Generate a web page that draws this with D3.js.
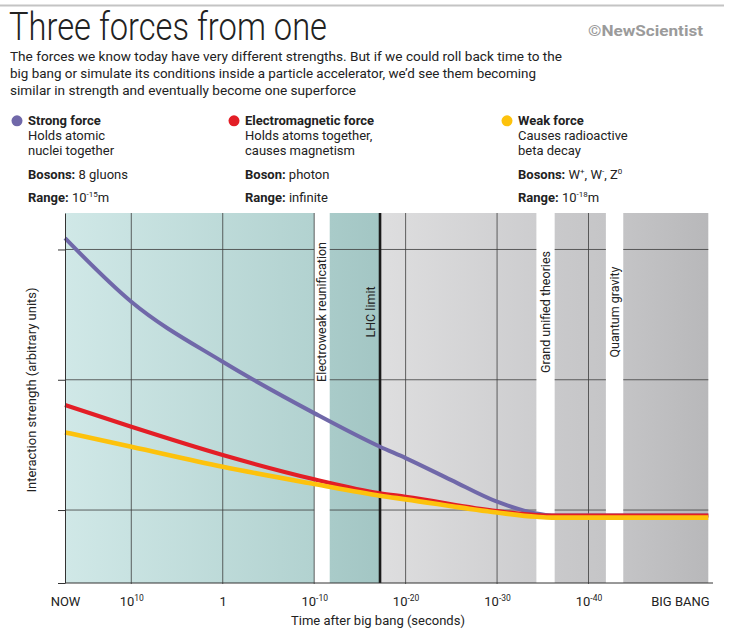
<!DOCTYPE html>
<html>
<head>
<meta charset="utf-8">
<script src="https://cdn.jsdelivr.net/npm/d3@7"></script>
<style>
  body { margin: 0; background: #fff; }
  svg text { font-family: Roboto, "Noto Sans", sans-serif; fill: #222; }
</style>
</head>
<body>
<div id="chart"></div>
<script>
// time axis: log10 of seconds after the big bang
const tickExps = [17.25, 10, 0, -10, -20, -30, -40, -50];
const tickLabels = ["NOW", "10^{10}", "1", "10^{-10}", "10^{-20}", "10^{-30}", "10^{-40}", "BIG BANG"];
const gridExps = [10, 0, -10, -20, -30, -40];
const gridValues = [1, 2, 3];

// strength curves (arbitrary units)
const strongExps = [17.25, 10, 0, -10, -17.2, -20, -25, -30, -32.5, -34.3, -36, -53.1];
const strongVals = [3.087, 2.599, 2.138, 1.744, 1.486, 1.399, 1.230, 1.064, 1.005, 0.973, 0.958, 0.958];
const emExps = [17.25, 10, 0, -10, -17.2, -20, -30, -34.3, -36, -53.1];
const emVals = [1.806, 1.639, 1.422, 1.236, 1.128, 1.102, 0.992, 0.962, 0.958, 0.958];
const weakExps = [17.25, 10, 0, -10, -17.2, -20, -30, -34.3, -36, -53.1];
const weakVals = [1.596, 1.486, 1.332, 1.200, 1.110, 1.082, 0.981, 0.948, 0.942, 0.942];

// background eras
const bandFrom = [17.25, -11.7, -17.2, -36.3, -43.8];
const bandTo = [-10, -17.2, -34.3, -41.9, -53.1];
const markerExps = [-10.85, -16.2, -35.3, -42.85];
const markerLabels = ["Electroweak reunification", "LHC limit", "Grand unified theories", "Quantum gravity"];
const lhcExp = -17.2;

// legend
const forceNames = ["Strong force", "Electromagnetic force", "Weak force"];
const forceDesc = [["Holds atomic", "nuclei together"], ["Holds atoms together,", "causes magnetism"], ["Causes radioactive", "beta decay"]];
const bosonKeys = ["Bosons:", "Boson:", "Bosons:"];
const bosonVals = ["8 gluons", "photon", "W^{+}, W^{-}, Z^{0}"];
const rangeVals = ["10^{-15}m", "infinite", "10^{-18}m"];

const colors = ["#7068a9", "#e31e26", "#fdc20c"];
const bandColors = [["#d0e8e7", "#b2d2d0"], ["#a9cbc9", "#a3c6c4"], ["#dededf", "#cdcdcf"], ["#c9c9cb", "#c5c5c7"], ["#c4c4c6", "#b8b8ba"]];

const W = 733, H = 631;
const svg = d3.select("#chart").append("svg").attr("width", W).attr("height", H);

const x = d3.scaleLinear().domain([17.25, -53.1]).range([65, 708.3]);
const y = d3.scaleLinear().domain([0.44, 3.28]).range([583, 213]);

// text with ^{..} superscripts
function rich(sel, str, supSize) {
  const parts = str.split(/\^\{([^}]*)\}/);
  parts.forEach((p, i) => {
    if (p === "") return;
    const t = sel.append("tspan").text(p);
    if (i % 2 === 1) t.attr("font-size", supSize).attr("baseline-shift", 5);
  });
}

// header
svg.append("line").attr("x1", 0).attr("x2", 724).attr("y1", 5.5).attr("y2", 5.5)
  .attr("stroke", "#c4c4c4").attr("stroke-width", 2);
svg.append("text").attr("x", 9).attr("y", 40).attr("font-size", 38).attr("font-weight", 300)
  .attr("textLength", 318).attr("lengthAdjust", "spacingAndGlyphs").text("Three forces from one");
svg.append("text").attr("x", 588).attr("y", 36).attr("font-size", 14.5).attr("font-weight", 700)
  .style("fill", "#9b9b9b").attr("textLength", 115).attr("lengthAdjust", "spacingAndGlyphs").text("©NewScientist");

const sub = ["The forces we know today have very different strengths. But if we could roll back time to the",
  "big bang or simulate its conditions inside a particle accelerator, we\u2019d see them becoming",
  "similar in strength and eventually become one superforce"];
const subLen = [552, 526, 346];
sub.forEach((s, i) => {
  svg.append("text").attr("x", 10).attr("y", 61 + i * 16.8).attr("font-size", 13.5)
    .attr("textLength", subLen[i]).attr("lengthAdjust", "spacingAndGlyphs").text(s);
});

// legend
const legX = [17, 234, 507];
forceNames.forEach((n, i) => {
  const g = svg.append("g").attr("transform", `translate(${legX[i]},0)`);
  g.append("circle").attr("cx", 0).attr("cy", 120.8).attr("r", 5.5).attr("fill", colors[i]);
  g.append("text").attr("x", 11).attr("y", 125).attr("font-size", 13).attr("font-weight", 700).text(n);
  forceDesc[i].forEach((d, j) => {
    g.append("text").attr("x", 11).attr("y", 140 + j * 15).attr("font-size", 13).text(d);
  });
  const b = g.append("text").attr("x", 11).attr("y", 179).attr("font-size", 13);
  b.append("tspan").attr("font-weight", 700).text(bosonKeys[i] + " ");
  rich(b, bosonVals[i], 8);
  const r = g.append("text").attr("x", 11).attr("y", 201.5).attr("font-size", 13);
  r.append("tspan").attr("font-weight", 700).text("Range: ");
  rich(r, rangeVals[i], 8);
});

// bands
const defs = svg.append("defs");
bandFrom.forEach((f, i) => {
  const lg = defs.append("linearGradient").attr("id", "band" + i);
  lg.append("stop").attr("offset", "0%").attr("stop-color", bandColors[i][0]);
  lg.append("stop").attr("offset", "100%").attr("stop-color", bandColors[i][1]);
});
const plot = svg.append("g");
plot.selectAll("rect.band").data(bandFrom).join("rect")
  .attr("class", "band")
  .attr("x", (d) => x(d))
  .attr("width", (d, i) => x(bandTo[i]) - x(d))
  .attr("y", y(3.28)).attr("height", y(0.44) - y(3.28))
  .attr("fill", (d, i) => `url(#band${i})`);

// horizontal grid, only inside bands
bandFrom.forEach((f, i) => {
  plot.selectAll(null).data(gridValues).join("line")
    .attr("x1", x(f)).attr("x2", x(bandTo[i]))
    .attr("y1", (d) => y(d)).attr("y2", (d) => y(d))
    .attr("stroke", "#3c3c3c").attr("stroke-width", 0.8);
});
// vertical grid
plot.selectAll("line.vg").data(gridExps).join("line")
  .attr("class", "vg")
  .attr("x1", (d) => x(d)).attr("x2", (d) => x(d))
  .attr("y1", y(3.28)).attr("y2", y(0.44) + 1)
  .attr("stroke", "#3c3c3c").attr("stroke-width", 0.8);

// LHC limit line
plot.append("line").attr("x1", x(lhcExp)).attr("x2", x(lhcExp))
  .attr("y1", y(3.28)).attr("y2", y(0.44))
  .attr("stroke", "#1a1a1a").attr("stroke-width", 2.6);

// era labels
markerLabels.forEach((t, i) => {
  plot.append("text")
    .attr("transform", `translate(${x(markerExps[i])},312) rotate(-90)`)
    .attr("text-anchor", "middle").attr("dy", "0.36em")
    .attr("font-size", 12.5).text(t);
});

// curves
const line = d3.line().x((d) => x(d[0])).y((d) => y(d[1])).curve(d3.curveMonotoneX);
const series = [
  d3.zip(strongExps, strongVals),
  d3.zip(emExps, emVals),
  d3.zip(weakExps, weakVals)
];
const widths = [4, 4.2, 4.6];
series.forEach((s, i) => {
  svg.append("path").datum(s).attr("d", line)
    .attr("fill", "none").attr("stroke", colors[i]).attr("stroke-width", widths[i]);
});

// axes
const yAxis = svg.append("g").attr("transform", `translate(${x(17.25)},0)`)
  .call(d3.axisLeft(y).tickValues([0.44].concat(gridValues)).tickSize(7).tickSizeOuter(0).tickFormat(""));
yAxis.select(".domain").attr("stroke", "#333");
yAxis.selectAll(".tick line").attr("stroke", "#333");
yAxis.selectAll(".tick text").remove();

const xAxis = svg.append("g").attr("transform", `translate(0,${y(0.44)})`)
  .call(d3.axisBottom(x).tickValues(tickExps).tickSize(0).tickSizeOuter(0).tickPadding(14).tickFormat(""));
xAxis.select(".domain").attr("d", `M${x(17.25)},0H713`).attr("stroke", "#333");
xAxis.selectAll(".tick text").each(function (d, i) {
  const t = d3.select(this).attr("font-size", 13).attr("font-family", null).style("fill", "#222");
  t.text(null);
  rich(t, tickLabels[i], 8.5);
});

svg.append("text").attr("x", 378).attr("y", 625).attr("text-anchor", "middle").attr("font-size", 13)
  .text("Time after big bang (seconds)");
svg.append("text").attr("transform", "translate(31,390) rotate(-90)").attr("text-anchor", "middle")
  .attr("dy", "0.36em").attr("font-size", 13).text("Interaction strength (arbitrary units)");
</script>
</body>
</html>
